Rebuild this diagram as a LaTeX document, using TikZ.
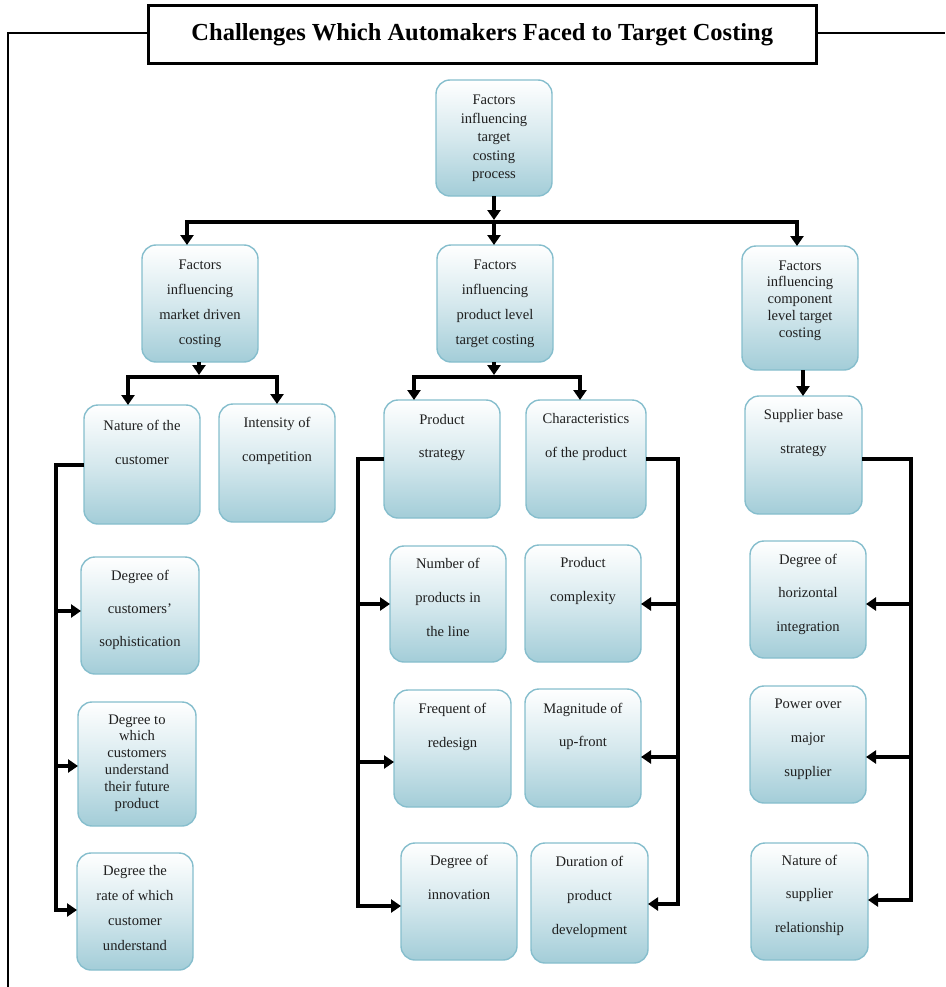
\documentclass[tikz,border=0pt]{standalone}
\usepackage{fontspec}
\setmainfont{Liberation Serif}
\usetikzlibrary{arrows.meta,calc}
\definecolor{boxb}{RGB}{163,205,216}
\definecolor{boxd}{RGB}{134,190,205}
\tikzset{
  box/.style={draw=boxd, line width=1.4pt, rounded corners=14pt, top color=white, bottom color=boxb, middle color=boxb!45!white, inner sep=0pt, outer sep=0pt, anchor=north west},
  txt/.style={anchor=base, inner sep=0pt, outer sep=0pt, text=black!88},
  arr/.style={line width=4.2pt, black, line join=miter, -{Triangle[length=10pt,width=13pt]}},
  frame/.style={line width=2.6pt, black}
}
\newcommand{\bx}[8]{%
  \node[box, minimum width={#4pt-#2pt}, minimum height={#5pt-#3pt}] (#1) at (#2,#3) {};
  \node[txt] (#1-t) at ({(#2+#4)/2},#7) {\parbox[t]{140pt}{\centering\fontsize{14.6}{#6}\selectfont #8}};
}
\begin{document}
\begin{tikzpicture}[x=1pt,y=-1pt]
\useasboundingbox (0,0) rectangle (945,987);
% title and frame
\node[draw, line width=2.6pt, minimum width=668pt, minimum height=58pt, anchor=north west, inner sep=0pt, fill=white] (title) at (147,4) {\fontsize{24.5}{28}\selectfont\bfseries Challenges Which Automakers Faced to Target Costing};
\coordinate (fl) at (8,33);
\coordinate (fb) at (8,987);
\coordinate (fr) at (945,33);
\draw[frame] (title.west |- fl) -- (fl) -- (fb);
\draw[frame] (title.east |- fr) -- (fr);
% boxes
\bx{T}{436}{80}{552}{196}{18.5}{105}{Factors\\influencing\\target\\costing\\process}
\bx{L1}{142}{245}{258}{362}{25}{269}{Factors\\influencing\\market driven\\costing}
\bx{M1}{437}{245}{553}{362}{25}{269}{Factors\\influencing\\product level\\target costing}
\bx{R1}{742}{246}{858}{370}{16.8}{270}{Factors\\influencing\\component\\level target\\costing}
\bx{NC}{84}{405}{200}{524}{34}{430}{Nature of the\\customer}
\bx{IC}{219}{404}{335}{522}{34}{427}{Intensity of\\competition}
\bx{PS}{384}{400}{500}{518}{33}{424}{Product\\strategy}
\bx{CH}{526}{400}{646}{518}{34}{423}{Characteristics\\of the product}
\bx{SB}{745}{396}{862}{514}{34}{419}{Supplier base\\strategy}
\bx{DCS}{81}{557}{199}{674}{33}{580}{Degree of\\customers'\\sophistication}
\bx{DTW}{78}{702}{196}{826}{16.8}{724}{Degree to\\which\\customers\\understand\\their future\\product}
\bx{DRW}{77}{853}{193}{970}{25}{875}{Degree the\\rate of which\\customer\\understand}
\bx{NP}{390}{546}{506}{662}{34}{568}{Number of\\products in\\the line}
\bx{FR}{394}{690}{511}{807}{34}{713}{Frequent of\\redesign}
\bx{DI}{401}{843}{517}{960}{34}{865}{Degree of\\innovation}
\bx{PC}{525}{545}{641}{662}{34}{567}{Product\\complexity}
\bx{MU}{525}{689}{641}{807}{33}{713}{Magnitude of\\up-front}
\bx{DU}{531}{843}{648}{963}{34}{866}{Duration of\\product\\development}
\bx{DH}{750}{541}{866}{658}{33.5}{564}{Degree of\\horizontal\\integration}
\bx{PO}{750}{686}{866}{803}{34}{708}{Power over\\major\\supplier}
\bx{NS}{751}{843}{868}{960}{33.5}{865}{Nature of\\supplier\\relationship}
% top level connectors
\coordinate (bm) at (494,222);
\coordinate (bl) at (187,222);
\coordinate (br) at (797,222);
\coordinate (bt) at (494,220);
\draw[arr] (T.south -| bt) -- (bt);
\draw[arr] (bm) -- (bl) -- (bl |- L1.north);
\draw[arr] (bm) -- (br) -- (br |- R1.north);
\draw[arr] (bm) -- (bm |- M1.north);
% market driven
\coordinate (lm) at (199,377);
\coordinate (lt) at (199,375);
\coordinate (ll) at (128,377);
\coordinate (lr) at (277,377);
\draw[arr] (L1.south -| lt) -- (lt);
\draw[arr] (lm) -- (ll) -- (ll |- NC.north);
\draw[arr] (lm) -- (lr) -- (lr |- IC.north);
% product level
\coordinate (mm) at (494,377);
\coordinate (mt) at (494,375);
\coordinate (ml) at (414,377);
\coordinate (mr) at (580,377);
\draw[arr] (M1.south -| mt) -- (mt);
\draw[arr] (mm) -- (ml) -- (ml |- PS.north);
\draw[arr] (mm) -- (mr) -- (mr |- CH.north);
% component level
\coordinate (rc) at (803,300);
\draw[arr] (R1.south -| rc) -- (SB.north -| rc);
% left column
\coordinate (a0) at (56,465);
\coordinate (a1) at (56,611);
\coordinate (a2) at (56,766);
\coordinate (a3) at (56,910);
\draw[arr] (NC.west |- a0) -- (a0) -- (a3) -- (a3 -| DRW.west);
\draw[arr] (a1) -- (a1 -| DCS.west);
\draw[arr] (a2) -- (a2 -| DTW.west);
% product strategy column
\coordinate (b0) at (358,459);
\coordinate (b1) at (358,604);
\coordinate (b2) at (358,762);
\coordinate (b3) at (358,906);
\draw[arr] (PS.west |- b0) -- (b0) -- (b3) -- (b3 -| DI.west);
\draw[arr] (b1) -- (b1 -| NP.west);
\draw[arr] (b2) -- (b2 -| FR.west);
% characteristics column
\coordinate (c0) at (678,459);
\coordinate (c1) at (678,604);
\coordinate (c2) at (678,757);
\coordinate (c3) at (678,904);
\draw[arr] (CH.east |- c0) -- (c0) -- (c3) -- (c3 -| DU.east);
\draw[arr] (c1) -- (c1 -| PC.east);
\draw[arr] (c2) -- (c2 -| MU.east);
% supplier column
\coordinate (d0) at (911,459);
\coordinate (d1) at (911,604);
\coordinate (d2) at (911,757);
\coordinate (d3) at (911,900);
\draw[arr] (SB.east |- d0) -- (d0) -- (d3) -- (d3 -| NS.east);
\draw[arr] (d1) -- (d1 -| DH.east);
\draw[arr] (d2) -- (d2 -| PO.east);
\end{tikzpicture}
\end{document}
